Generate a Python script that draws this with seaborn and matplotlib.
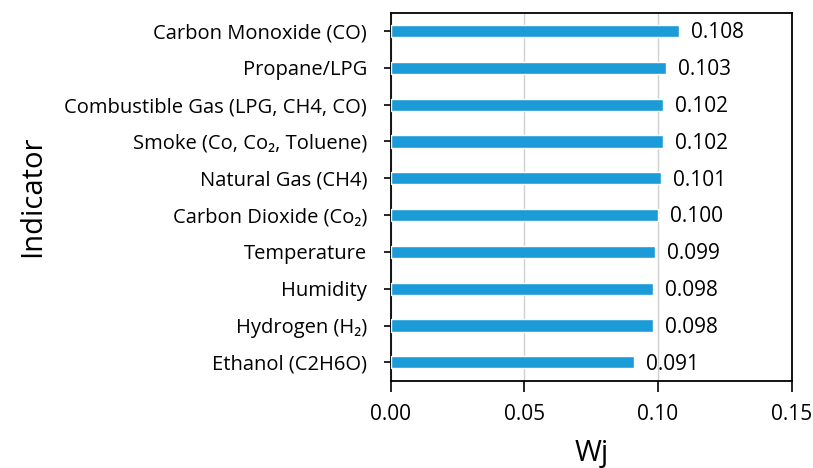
import matplotlib
matplotlib.use("Agg")
import matplotlib.pyplot as plt
import seaborn as sns
import pandas as pd

indicators = [
    "Carbon Monoxide (CO)",
    "Propane/LPG",
    "Combustible Gas (LPG, CH4, CO)",
    "Smoke (Co, Co\u2082, Toluene)",
    "Natural Gas (CH4)",
    "Carbon Dioxide (Co\u2082)",
    "Temperature",
    "Humidity",
    "Hydrogen (H\u2082)",
    "Ethanol (C2H6O)",
]
weights = [0.108, 0.103, 0.102, 0.102, 0.101, 0.100, 0.099, 0.098, 0.098, 0.091]
x_ticks = [0.00, 0.05, 0.10, 0.15]

df = pd.DataFrame({"Indicator": indicators, "Wj": weights})

sns.set_style("white")
plt.rcParams["font.family"] = ["Open Sans", "DejaVu Sans"]
plt.rcParams["text.color"] = "black"
plt.rcParams["axes.labelcolor"] = "black"
plt.rcParams["xtick.color"] = "black"
plt.rcParams["ytick.color"] = "black"

fig = plt.figure(figsize=(8.13, 4.68), dpi=100)
ax = fig.add_axes([0.4806, 0.1865, 0.4932, 0.7864])

sns.barplot(data=df, x="Wj", y="Indicator", orient="h", color="#1B9BD7",
            saturation=1, width=0.33, ax=ax, zorder=3)

ax.set_xlim(0, 0.15)
ax.set_xticks(x_ticks)
ax.set_xticklabels([f"{t:.2f}" for t in x_ticks], fontsize=15)
ax.tick_params(axis="y", left=True, labelsize=14.5, length=5, width=1.2,
               direction="out", pad=12)
ax.tick_params(axis="x", bottom=True, length=8, width=1.2, direction="out", pad=9)
ax.set_ylim(len(indicators) - 0.5, -0.5)

ax.grid(axis="x", color="#d0d0d0", linewidth=1, zorder=0)
ax.grid(axis="y", visible=False)
for s in ax.spines.values():
    s.set_visible(True)
    s.set_color("black")
    s.set_linewidth(1.3)

for i, v in enumerate(weights):
    ax.text(v + 0.0045, i + 0.05, f"{v:.3f}", va="center", ha="left", fontsize=15)

ax.set_xlabel("Wj", fontsize=21, labelpad=10)
ax.set_ylabel("Indicator", fontsize=21)
ax.yaxis.set_label_coords(-0.857, 0.5)

fig.savefig("out.png", dpi=100)
